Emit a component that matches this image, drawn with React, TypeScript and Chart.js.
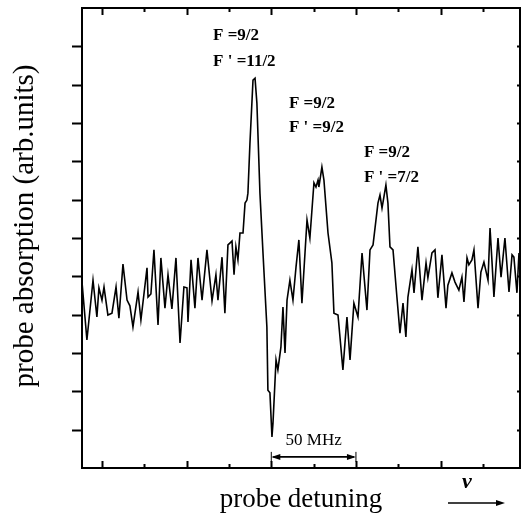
import React, { useEffect, useRef } from "react";
import { Chart, registerables } from "chart.js";

Chart.register(...registerables);

// probe detuning (MHz, relative to an arbitrary origin)
const detuningMHz = [
  -11.8, -8.9, -5.3, -3.0, -1.8, 0, 1.2, 3.5, 5.9, 8.3, 10.0, 12.4, 14.8, 16.5, 18.3, 21.3, 23.0,
  26.6, 27.2, 28.9, 30.7, 33.1, 34.8, 37.2, 39.0, 41.3, 43.7, 46.1, 48.4, 50.2, 50.8, 52.6, 54.9,
  56.7, 59.1, 62.0, 65.0, 67.3, 68.5, 70.9, 72.6, 74.4, 76.8, 78.0, 79.1, 80.3, 81.5, 83.3, 84.5,
  85.6, 86.2, 87.4, 89.2, 90.4, 91.5, 93.3, 95.1, 97.4, 98.0, 99.2, 100.4, 101.0, 102.8, 103.9,
  105.7, 106.9, 108.1, 109.3, 111.0, 112.8, 114.6, 116.3, 118.1, 121.1, 122.8, 125.2, 126.4, 127.6,
  128.1, 129.9, 131.1, 133.5, 135.8, 137.0, 139.4, 142.3, 144.7, 146.5, 148.8, 151.2, 153.6, 156.5,
  158.3, 160.1, 163.0, 164.2, 165.4, 167.7, 168.9, 170.1, 171.9, 174.2, 176.0, 177.8, 179.5, 180.7,
  183.1, 184.3, 186.6, 189.0, 191.4, 192.5, 194.9, 196.7, 198.4, 200.8, 203.2, 204.3, 206.7, 208.5,
  210.8, 212.6, 213.8, 215.6, 216.7, 218.5, 219.7, 222.1, 223.8, 225.6, 228.0, 229.2, 230.3, 231.5,
  233.9, 235.7, 238.0, 240.4, 242.2, 243.3, 245.1, 246.3,
];

// probe absorption (arb. units)
const absorption = [
  4.85, 3.34, 4.90, 3.94, 4.70, 4.38, 4.72, 3.99, 4.04, 4.72, 3.91, 5.32, 4.38, 4.23, 3.68, 4.59, 3.86,
  5.22, 4.46, 4.54, 5.69, 3.73, 5.48, 4.17, 5.04, 4.15, 5.48, 3.26, 4.72, 4.70, 3.81, 5.43, 4.17,
  5.48, 4.38, 5.69, 4.36, 5.04, 4.38, 5.50, 4.04, 5.82, 5.92, 5.04, 5.77, 5.43, 6.13, 6.13, 6.91,
  6.99, 7.17, 8.48, 10.12, 10.17, 9.52, 7.17, 5.61, 3.68, 2.03, 1.96, 0.81, 1.17, 2.82, 2.56,
  3.16, 4.20, 3.00, 4.38, 4.90, 4.38, 5.24, 5.95, 4.30, 6.47, 6.00, 7.44, 7.33, 7.51,
  7.33, 7.85, 7.51, 6.13, 5.35, 4.04, 3.99, 2.56, 3.94, 2.82, 4.30, 3.94, 5.61, 4.12,
  5.69, 5.82, 6.91, 7.12, 6.78, 7.38, 6.91, 5.77, 5.69, 4.46, 3.52, 4.30, 3.42, 4.46,
  5.17, 4.57, 5.77, 4.38, 5.35, 4.96, 5.61, 5.69, 4.44, 5.56, 4.17, 4.77, 5.09, 4.85,
  4.64, 4.98, 4.33, 5.48, 5.30, 5.43, 5.69, 4.17, 5.11, 5.37, 4.90, 6.26, 5.43, 4.46,
  6.00, 4.98, 6.00, 4.59, 5.56, 5.50, 4.57, 5.61,
];

const xTicks = [0, 25, 50, 75, 100, 125, 150, 175, 200, 225];
const xMajorTicks = [0, 50, 100, 150, 200];
const yTicks = [1, 2, 3, 4, 5, 6, 7, 8, 9, 10, 11];

const labelLine1 = ["F =9/2", "F =9/2", "F =9/2"];
const labelLine2 = ["F ' =11/2", "F ' =9/2", "F ' =7/2"];
const labelX = [65.6, 110.4, 154.7];
const labelY1 = [11.27, 9.5, 8.22];
const labelY2 = [10.59, 8.87, 7.57];

const scaleBarFrom = 100;
const scaleBarTo = 150;
const scaleBarText = "50 MHz";

const yTitle = "probe absorption (arb.units)";
const xTitle = "probe detuning";
const nuSymbol = "\u03bd";

const SERIF = "'Liberation Serif', 'Times New Roman', serif";

function arrowHead(ctx: CanvasRenderingContext2D, x: number, y: number, dir: number) {
  ctx.beginPath();
  ctx.moveTo(x, y);
  ctx.lineTo(x - dir * 9, y - 3);
  ctx.lineTo(x - dir * 9, y + 3);
  ctx.closePath();
  ctx.fill();
}

const decorPlugin = {
  id: "decor",
  afterDraw(chart: any) {
    const { ctx, chartArea, scales } = chart;
    const { left, right, top, bottom } = chartArea;
    const xs = scales.x;
    const ys = scales.y;
    ctx.save();
    ctx.strokeStyle = "#000";
    ctx.fillStyle = "#000";
    // frame
    ctx.lineWidth = 2;
    ctx.strokeRect(left, top, right - left, bottom - top);
    // y ticks
    ctx.lineWidth = 2;
    ctx.beginPath();
    yTicks.forEach((v) => {
      const py = Math.round(ys.getPixelForValue(v)) + 0.5;
      ctx.moveTo(left - 10, py);
      ctx.lineTo(left, py);
      ctx.moveTo(right, py);
      ctx.lineTo(right - 3, py);
    });
    ctx.stroke();
    // x ticks
    ctx.beginPath();
    xTicks.forEach((v) => {
      const px = Math.round(xs.getPixelForValue(v)) + 0.5;
      const len = xMajorTicks.includes(v) ? 7 : 4;
      ctx.moveTo(px, top);
      ctx.lineTo(px, top + len);
      ctx.moveTo(px, bottom);
      ctx.lineTo(px, bottom - len);
    });
    ctx.stroke();

    // transition labels
    ctx.font = `bold 17px ${SERIF}`;
    ctx.textAlign = "left";
    ctx.textBaseline = "middle";
    labelX.forEach((lx, i) => {
      const px = xs.getPixelForValue(lx);
      ctx.fillText(labelLine1[i], px, ys.getPixelForValue(labelY1[i]));
      ctx.fillText(labelLine2[i], px, ys.getPixelForValue(labelY2[i]));
    });

    // scale bar
    const bx1 = xs.getPixelForValue(scaleBarFrom);
    const bx2 = xs.getPixelForValue(scaleBarTo);
    const by = ys.getPixelForValue(0.29);
    ctx.lineWidth = 1.8;
    ctx.beginPath();
    ctx.moveTo(bx1 + 2, by);
    ctx.lineTo(bx2 - 2, by);
    ctx.stroke();
    arrowHead(ctx, bx1, by, -1);
    arrowHead(ctx, bx2, by, 1);
    ctx.lineWidth = 1;
    ctx.beginPath();
    ctx.moveTo(bx1, by - 5);
    ctx.lineTo(bx1, by + 5);
    ctx.moveTo(bx2, by - 5);
    ctx.lineTo(bx2, by + 5);
    ctx.stroke();
    ctx.font = `17px ${SERIF}`;
    ctx.textAlign = "center";
    ctx.fillText(scaleBarText, (bx1 + bx2) / 2, ys.getPixelForValue(0.72));

    // axis titles
    ctx.font = `27px ${SERIF}`;
    ctx.textAlign = "center";
    ctx.textBaseline = "middle";
    ctx.fillText(xTitle, (left + right) / 2 + 0, bottom + 32);
    ctx.save();
    ctx.font = `29px ${SERIF}`;
    ctx.translate(left - 57, (top + bottom) / 2 - 12);
    ctx.rotate(-Math.PI / 2);
    ctx.fillText(yTitle, 0, 0);
    ctx.restore();

    // nu arrow
    ctx.font = `italic bold 22px ${SERIF}`;
    ctx.fillText(nuSymbol, right - 53, bottom + 14);
    ctx.lineWidth = 1.5;
    ctx.beginPath();
    ctx.moveTo(right - 72, bottom + 35);
    ctx.lineTo(right - 20, bottom + 35);
    ctx.stroke();
    arrowHead(ctx, right - 15, bottom + 35, 1);
    ctx.restore();
  },
};

export default function App() {
  const canvasRef = useRef<HTMLCanvasElement | null>(null);
  useEffect(() => {
    const canvas = canvasRef.current;
    if (!canvas) return;
    const points = detuningMHz.map((x, i) => ({ x, y: absorption[i] }));
    const chart = new Chart(canvas, {
      type: "line",
      data: {
        datasets: [
          {
            data: points,
            borderColor: "#000",
            borderWidth: 1.6,
            pointRadius: 0,
            tension: 0,
            fill: false,
          },
        ],
      },
      options: {
        animation: false,
        responsive: false,
        devicePixelRatio: 1,
        layout: { padding: { left: 82, top: 8, right: 3, bottom: 54 } },
        plugins: { legend: { display: false }, tooltip: { enabled: false } },
        scales: {
          x: { type: "linear", min: -11.8, max: 246.9, display: false },
          y: { type: "linear", min: 0, max: 12, display: false },
        },
      },
      plugins: [decorPlugin],
    });
    return () => chart.destroy();
  }, []);
  return (
    <div style={{ position: "fixed", left: 0, top: 0, width: 523, height: 522, background: "#fff" }}>
      <canvas ref={canvasRef} width={523} height={522} style={{ display: "block" }} />
    </div>
  );
}
